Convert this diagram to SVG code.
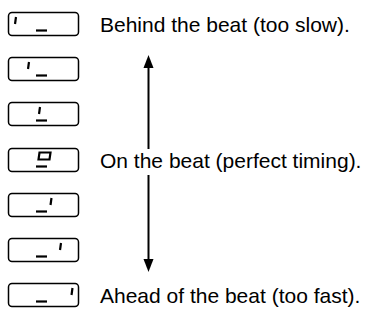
<svg xmlns="http://www.w3.org/2000/svg" width="365" height="320" viewBox="0 0 365 320">
<style>
.box{fill:#fff;stroke:#000;stroke-width:1.5}
.seg{fill:none;stroke:#000;stroke-width:2.2;stroke-linecap:butt}
.lbl{font-family:"Liberation Sans",Arial,sans-serif;font-size:21px;fill:#000}
.ar{stroke:#000;stroke-width:2;fill:none}
.hd{fill:#000}
</style>
<g id="d1"><rect class="box" x="8.5" y="12.5" width="70" height="23" rx="3.5"/><path class="seg" d="M16,17 L15,24"/><path class="seg" d="M36,30.5 L47,30.5"/></g>
<g id="d2"><rect class="box" x="8.5" y="57.5" width="70" height="23" rx="3.5"/><path class="seg" d="M29,62 L28,69"/><path class="seg" d="M36,75.5 L47,75.5"/></g>
<g id="d3"><rect class="box" x="8.5" y="102.5" width="70" height="23" rx="3.5"/><path class="seg" d="M40,107 L39,114"/><path class="seg" d="M36,120.5 L47,120.5"/></g>
<g id="d4"><rect class="box" x="8.5" y="148.5" width="70" height="23" rx="3.5"/><path class="seg" d="M39.5,152.5 L50.5,152.5 L49.5,159.5 L38.5,159.5 Z"/><path class="seg" d="M36,166.5 L47,166.5"/></g>
<g id="d5"><rect class="box" x="8.5" y="193.5" width="70" height="23" rx="3.5"/><path class="seg" d="M51.5,198 L50.5,205"/><path class="seg" d="M36,211.5 L47,211.5"/></g>
<g id="d6"><rect class="box" x="8.5" y="238.5" width="70" height="23" rx="3.5"/><path class="seg" d="M61,243 L60,250"/><path class="seg" d="M36,256.5 L47,256.5"/></g>
<g id="d7"><rect class="box" x="8.5" y="283.5" width="70" height="23" rx="3.5"/><path class="seg" d="M72.5,288 L71.5,295"/><path class="seg" d="M36,301.5 L47,301.5"/></g>
<g id="connectors">
<line class="ar" x1="148.5" y1="149" x2="148.5" y2="66"/>
<path class="hd" d="M148.5,55 L153.5,68 L143.5,68 Z"/>
<line class="ar" x1="148.5" y1="175" x2="148.5" y2="261"/>
<path class="hd" d="M148.5,272 L153.5,259 L143.5,259 Z"/>
</g>
<text class="lbl" x="100" y="32">Behind the beat (too slow).</text>
<text class="lbl" x="100" y="168">On the beat (perfect timing).</text>
<text class="lbl" x="100" y="303">Ahead of the beat (too fast).</text>
</svg>
